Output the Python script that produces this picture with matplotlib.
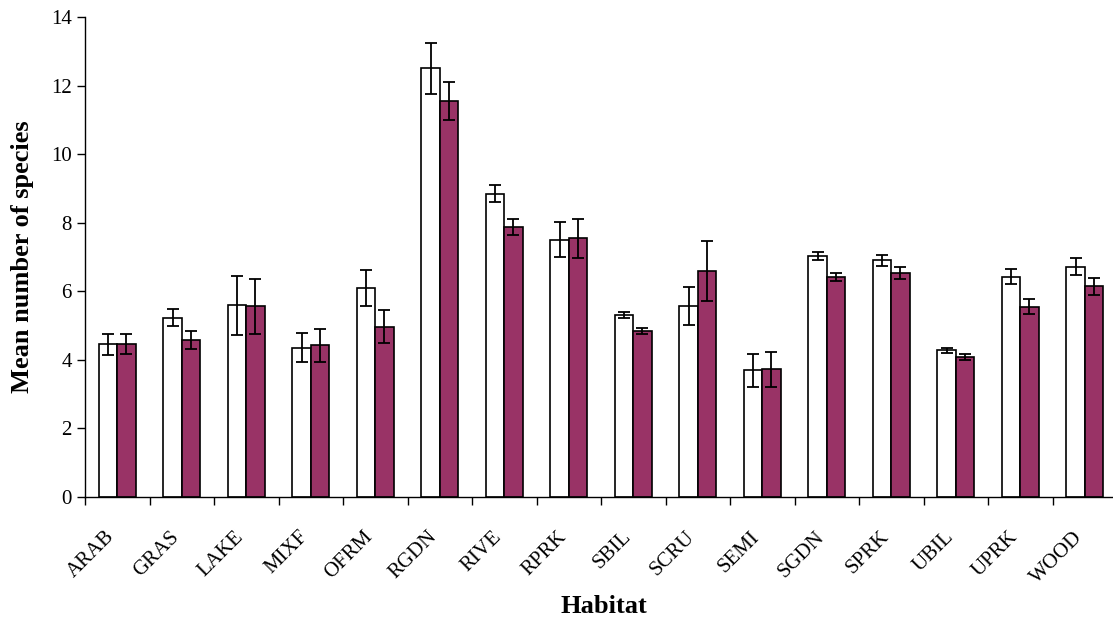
import matplotlib
matplotlib.use("Agg")
import matplotlib.pyplot as plt
import matplotlib.transforms as mtransforms
import numpy as np

habitats = ["ARAB", "GRAS", "LAKE", "MIXF", "OFRM", "RGDN", "RIVE", "RPRK",
            "SBIL", "SCRU", "SEMI", "SGDN", "SPRK", "UBIL", "UPRK", "WOOD"]

mean_white = [4.45, 5.23, 5.59, 4.35, 6.10, 12.50, 8.85, 7.51,
              5.32, 5.57, 3.69, 7.04, 6.91, 4.28, 6.43, 6.72]
err_white = [0.31, 0.25, 0.86, 0.42, 0.52, 0.75, 0.26, 0.50,
             0.09, 0.56, 0.48, 0.12, 0.16, 0.08, 0.23, 0.24]

mean_purple = [4.45, 4.57, 5.56, 4.43, 4.97, 11.56, 7.87, 7.54,
               4.85, 6.60, 3.72, 6.42, 6.54, 4.08, 5.55, 6.14]
err_purple = [0.29, 0.26, 0.80, 0.48, 0.48, 0.55, 0.24, 0.57,
              0.09, 0.87, 0.51, 0.11, 0.17, 0.09, 0.22, 0.25]

y_ticks = [0, 2, 4, 6, 8, 10, 12, 14]

plt.rcParams["font.family"] = ["Liberation Serif", "DejaVu Serif"]

W, H = 1113, 621
fig = plt.figure(figsize=(W / 100, H / 100), dpi=100)
ax = fig.add_axes([85 / W, (H - 497) / H, 1032 / W, 480 / H])

x = np.arange(len(habitats))
bw = 0.284
ekw = dict(elinewidth=1.3, capthick=1.3, ecolor="black")
ax.bar(x - bw / 2, mean_white, bw, color="white", edgecolor="black",
       linewidth=1.2, yerr=err_white, capsize=4.5, error_kw=ekw, zorder=2)
ax.bar(x + bw / 2, mean_purple, bw, color="#993366", edgecolor="black",
       linewidth=1.2, yerr=err_purple, capsize=4.5, error_kw=ekw, zorder=2)

ax.set_xlim(-0.5, len(habitats) - 0.5)
ax.set_ylim(0, 14)
ax.set_yticks(y_ticks)
ax.tick_params(axis="y", labelsize=15, direction="out", length=6, width=1)

# category ticks sit on the boundaries, labels at the centres
ax.set_xticks(np.arange(len(habitats) + 1) - 0.5)
ax.set_xticklabels([])
ax.tick_params(axis="x", which="major", direction="out", length=6, width=1)
ax.set_xticks(x, minor=True)
ax.set_xticklabels(habitats, minor=True, rotation=45, ha="right",
                   rotation_mode="anchor", fontsize=15)
ax.tick_params(axis="x", which="minor", length=0, pad=22)
shift = mtransforms.ScaledTranslation(-12 / 100, 0, fig.dpi_scale_trans)
for lbl in ax.get_xticklabels(minor=True):
    lbl.set_transform(lbl.get_transform() + shift)

for s in ["top", "right"]:
    ax.spines[s].set_visible(False)
for s in ["left", "bottom"]:
    ax.spines[s].set_linewidth(1)

ax.set_ylabel("Mean number of species", fontsize=19, fontweight="bold")
ax.yaxis.set_label_coords(-(85 - 34) / 1032, 0.5)
ax.set_xlabel("Habitat", fontsize=19, fontweight="bold")
ax.xaxis.set_label_coords((604 - 85) / 1032, -(595 - 497) / 480)

fig.savefig("out.png", dpi=100)
